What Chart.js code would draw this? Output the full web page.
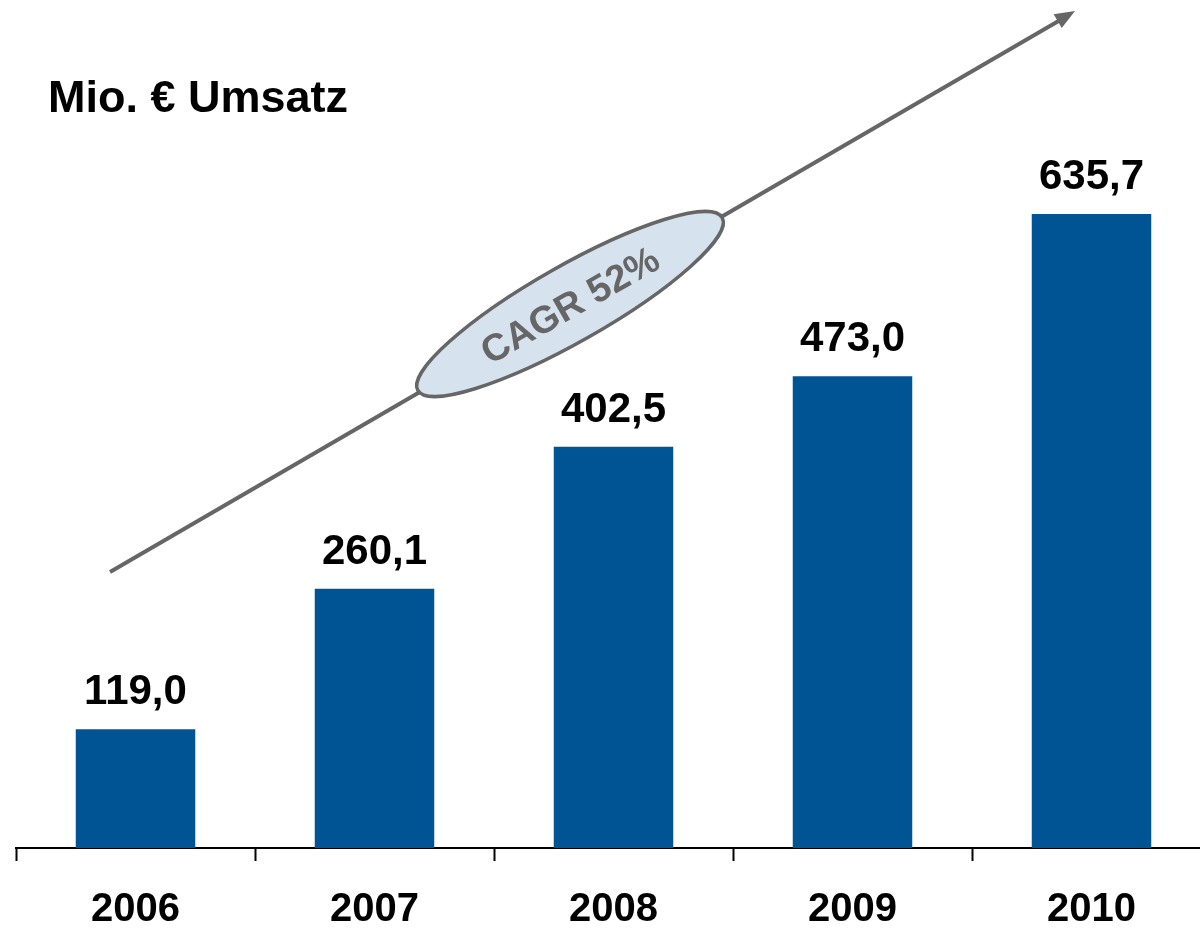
<!DOCTYPE html>
<html lang="de">
<head>
<meta charset="UTF-8"/>
<script src="https://cdn.jsdelivr.net/npm/chart.js"></script>
<style>
  html, body { margin: 0; padding: 0; background: #fff; }
  #wrap { width: 1200px; height: 928px; overflow: hidden; position: relative; }
  canvas { display: block; }
</style>
</head>
<body>
<div id="wrap"><canvas id="umsatzChart" width="1212" height="960"></canvas></div>
<script type="application/javascript">
const years = ['2006', '2007', '2008', '2009', '2010'];
const umsatz = [119.0, 260.1, 402.5, 473.0, 635.7];
const valueLabels = ['119,0', '260,1', '402,5', '473,0', '635,7'];
const titleText = 'Mio. \u20AC Umsatz';
const cagrText = 'CAGR 52%';

const barColour = '#005493';
const greyColour = '#666666';

// title, value labels, growth arrow and CAGR ellipse
const decorations = {
    id: 'decorations',
    afterDatasetsDraw(chart) {
        const ctx = chart.ctx;
        ctx.save();

        // arrow
        ctx.strokeStyle = greyColour;
        ctx.fillStyle = greyColour;
        ctx.lineWidth = 4;
        ctx.beginPath();
        ctx.moveTo(110, 572);
        ctx.lineTo(1062, 19);
        ctx.stroke();
        const ang = Math.atan2(11 - 572, 1075 - 110);
        ctx.translate(1075, 11);
        ctx.rotate(ang);
        ctx.beginPath();
        ctx.moveTo(0, 0);
        ctx.lineTo(-20, -8);
        ctx.lineTo(-20, 8);
        ctx.closePath();
        ctx.fill();
        ctx.setTransform(1, 0, 0, 1, 0, 0);

        // ellipse with CAGR
        ctx.beginPath();
        ctx.ellipse(570, 304, 175, 38, -29.6 * Math.PI / 180, 0, Math.PI * 2);
        ctx.fillStyle = '#d6e3ee';
        ctx.fill();
        ctx.lineWidth = 3.5;
        ctx.strokeStyle = greyColour;
        ctx.stroke();

        ctx.translate(571, 307);
        ctx.rotate(-29.6 * Math.PI / 180);
        ctx.fillStyle = greyColour;
        ctx.font = 'bold 38px "Liberation Sans", Arial, sans-serif';
        ctx.textAlign = 'center';
        ctx.textBaseline = 'middle';
        ctx.fillText(cagrText, 0, 0);
        ctx.setTransform(1, 0, 0, 1, 0, 0);

        // title
        ctx.fillStyle = '#000';
        ctx.font = 'bold 45px "Liberation Sans", Arial, sans-serif';
        ctx.textAlign = 'left';
        ctx.textBaseline = 'alphabetic';
        ctx.fillText(titleText, 48, 112);

        // value labels
        ctx.font = 'bold 42px "Liberation Sans", Arial, sans-serif';
        ctx.textAlign = 'center';
        chart.getDatasetMeta(0).data.forEach((bar, i) => {
            ctx.fillText(valueLabels[i], bar.x, bar.y - 25);
        });
        ctx.restore();
    }
};

const ctx = document.getElementById('umsatzChart');
const umsatzChart = new Chart(ctx, {
    type: 'bar',
    data: {
        labels: years,
        datasets: [{
            data: umsatz,
            backgroundColor: barColour,
            borderWidth: 0,
            barPercentage: 0.5,
            categoryPercentage: 1.0
        }]
    },
    options: {
        responsive: false,
        animation: false,
        devicePixelRatio: 1,
        layout: { padding: { left: 16, right: 1, top: 150, bottom: 1 } },
        plugins: {
            legend: { display: false },
            tooltip: { enabled: false },
            title: { display: false }
        },
        scales: {
            x: {
                grid: {
                    display: true,
                    drawOnChartArea: false,
                    drawTicks: true,
                    tickLength: 13,
                    tickColor: '#000',
                    tickWidth: 2,
                    offset: true
                },
                border: { display: true, color: '#000', width: 2 },
                ticks: {
                    color: '#000',
                    padding: 25,
                    font: { family: '"Liberation Sans", Arial, sans-serif', size: 40, weight: 'bold', lineHeight: 1.2 }
                }
            },
            y: {
                display: false,
                min: 0,
                max: 700
            }
        }
    },
    plugins: [decorations]
});
</script>
</body>
</html>
